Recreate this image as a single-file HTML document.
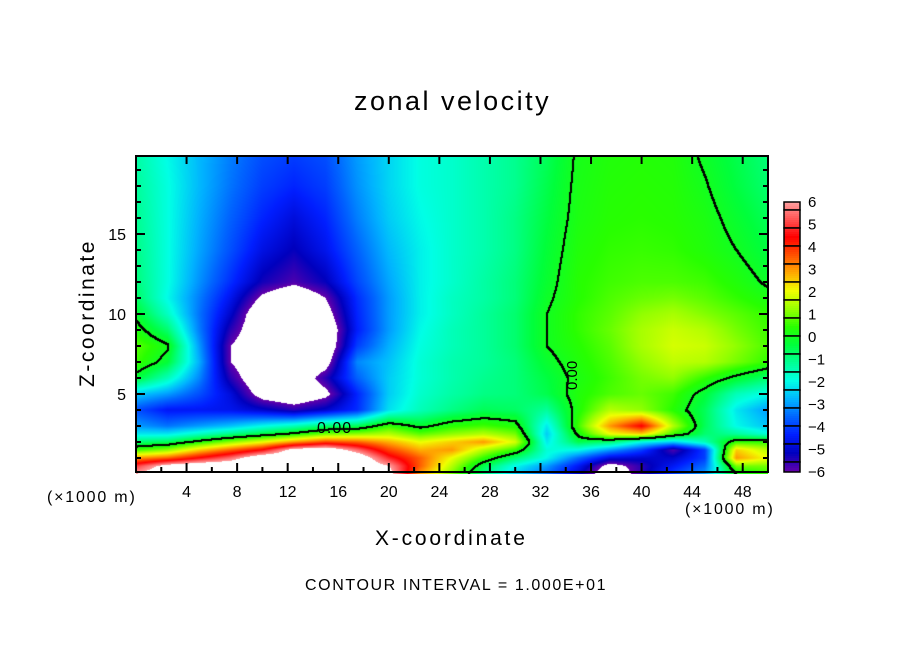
<!DOCTYPE html>
<html><head><meta charset="utf-8">
<style>
body{margin:0;background:#fff;width:904px;height:654px;overflow:hidden;position:relative;font-family:"Liberation Sans",sans-serif;}
.t{position:absolute;color:#000;white-space:nowrap;}
</style></head>
<body>
<div class="t" style="left:354px;top:86px;font-size:27px;letter-spacing:2.5px;">zonal velocity</div>
<div class="t" style="left:-12px;top:301px;font-size:21px;transform:rotate(-90deg);width:200px;text-align:center;letter-spacing:2.5px;">Z-coordinate</div>
<div class="t" style="left:375px;top:527px;font-size:21px;letter-spacing:2.8px;">X-coordinate</div>
<div class="t" style="left:47px;top:489px;font-size:16px;letter-spacing:1.8px;">(×1000 m)</div>
<div class="t" style="left:685px;top:501px;font-size:16px;letter-spacing:1.8px;">(×1000 m)</div>
<div class="t" style="left:305px;top:577px;font-size:16px;letter-spacing:1.6px;">CONTOUR INTERVAL = 1.000E+01</div>
<svg id="svg" width="904" height="654" style="position:absolute;left:0;top:0;">
<foreignObject x="136" y="156" width="632" height="318"><canvas id="cv" width="632" height="318" xmlns="http://www.w3.org/1999/xhtml"></canvas></foreignObject>
</svg>
<script>
const xs=[0,2.5,5,7.5,10,12.5,15,17.5,20,22.5,25,27.5,30,32.5,35,37.5,40,42.5,45,47.5,50];
const zs=[20,18,16,14,12,11,10,9,8,7,6,5,4,3,2.5,2,1.5,1,0.5,0];
const u20=[-1.3,-2.0,-2.7,-3.3,-3.8,-4.0,-3.8,-3.0,-2.4,-1.9,-1.7,-1.4,-1.1,-0.6,0.1,0.3,0.35,0.3,-0.1,-0.5,-0.9];
const u18=[-1.2,-1.9,-2.7,-3.4,-4.0,-4.3,-4.0,-3.1,-2.4,-1.9,-1.7,-1.4,-1.1,-0.5,0.15,0.35,0.4,0.35,0.05,-0.4,-0.8];
const u16=[-1.1,-1.9,-2.8,-3.6,-4.3,-4.8,-4.3,-3.3,-2.5,-2.0,-1.7,-1.4,-1.0,-0.4,0.2,0.4,0.45,0.4,0.2,-0.2,-0.6];
const u14=[-1.0,-1.9,-2.9,-3.8,-4.7,-5.2,-4.6,-3.6,-2.7,-2.1,-1.7,-1.4,-1.0,-0.3,0.3,0.5,0.55,0.5,0.3,0.0,-0.4];
const u12=[-0.9,-1.9,-3.1,-4.2,-5.3,-5.8,-5.2,-3.9,-2.9,-2.1,-1.7,-1.3,-0.9,-0.2,0.4,0.6,0.7,0.7,0.6,0.3,-0.1];
const u11=[-0.7,-2.0,-3.3,-4.6,-6.2,-7,-6.0,-4.2,-3.0,-2.1,-1.6,-1.3,-0.9,-0.1,0.4,0.7,0.9,1.0,0.8,0.5,0.2];
const u10=[-0.2,-1.6,-3.4,-5.0,-7,-7,-6.5,-4.3,-3.0,-2.1,-1.6,-1.2,-0.8,0.0,0.5,0.8,1.2,1.4,1.1,0.8,0.5];
const u9=[0.3,-0.8,-3.3,-5.5,-7,-7,-7,-4.4,-3.0,-2.0,-1.5,-1.2,-0.8,0.0,0.5,0.9,1.4,1.7,1.5,1.0,0.6];
const u8=[0.8,0.1,-3.0,-6.0,-7,-7,-7,-4.0,-2.8,-1.9,-1.5,-1.2,-0.8,0.0,0.4,0.8,1.4,1.8,1.7,1.2,0.7];
const u7=[0.6,-0.3,-2.8,-6.0,-7,-7,-6.5,-3.2,-2.6,-1.8,-1.4,-1.2,-0.9,-0.2,0.3,0.7,1.2,1.6,1.5,1.0,0.5];
const u6=[-0.3,-1.5,-3.2,-5.5,-7,-7,-5.5,-3.6,-2.5,-1.8,-1.4,-1.1,-0.9,-0.4,0.2,0.6,1.0,1.2,0.5,-0.2,-0.8];
const u5=[-2.5,-3.0,-3.8,-4.8,-6.5,-7,-6.3,-4.3,-2.5,-1.7,-1.3,-1.0,-0.9,-0.5,0.3,0.7,0.9,0.6,-0.3,-1.5,-2.0];
const u4=[-3.8,-4.5,-4.5,-4.6,-5.0,-5.5,-5.0,-4.2,-2.3,-1.5,-1.0,-0.6,-0.7,-1.2,0.3,1.5,1.2,0.4,-0.6,-2.2,-3.0];
const u3=[-3.0,-3.4,-3.0,-2.6,-2.0,-1.5,-0.8,-0.6,0.5,-0.2,0.4,0.6,0.3,-2.2,0.6,3.0,4.5,1.5,-0.6,-2.0,-2.6];
const u25=[-2.2,-2.2,-1.6,-1.0,-0.4,0.2,1.0,1.2,1.5,0.8,1.2,1.5,1.0,-2.5,0.2,2.0,2.5,0.6,-0.8,-1.2,-1.8];
const u2=[-0.8,-0.6,0.3,1.2,2.0,3.0,3.8,3.5,2.8,2.0,2.5,3.0,1.8,-2.2,-0.5,-0.8,-2.0,-2.5,-1.5,0.5,0.5];
const u15=[0.6,1.2,2.5,3.5,4.5,6.5,7,5.5,3.8,2.8,3.0,1.5,0.5,-1.8,-2.0,-3.0,-4.0,-5.8,-4.0,2.5,1.5];
const u1=[3.0,3.5,4.5,5.5,7,7,7,7,4.8,3.5,2.0,0.5,-0.8,-2.0,-3.5,-4.8,-5.0,-5.0,-4.0,3.0,2.0];
const u05=[5,6.5,7,7,7,7,7,7,6,3.5,1.5,-0.5,-2,-3,-4.5,-6.5,-5.5,-4.5,-3.5,1.0,1.0];
const u0=[6,7,7,7,7,7,7,7,6.5,3.0,1.0,-1,-2.5,-3.5,-5,-7,-5.5,-4,-3,0,0.5];
const field=[u20,u18,u16,u14,u12,u11,u10,u9,u8,u7,u6,u5,u4,u3,u25,u2,u15,u1,u05,u0];
const cbLabels=[6,5,4,3,2,1,0,-1,-2,-3,-4,-5,-6];
const xTicks=[4,8,12,16,20,24,28,32,36,40,44,48];
const zTicks=[5,10,15];

const L=136,T=156,W=632,H=318,XMAX=50,ZB=474,ZS=16;
const px=x=>L+x/XMAX*W, pz=z=>ZB-z*ZS;
const stops=[[6,[255,160,160]],[5.24,[255,85,85]],[4.44,[255,0,0]],[3.64,[255,80,0]],[2.84,[255,170,0]],[2.04,[240,255,0]],[1.24,[150,255,0]],[0.44,[40,255,0]],[-0.36,[0,255,60]],[-1.16,[0,255,150]],[-1.96,[0,255,230]],[-2.76,[0,180,255]],[-3.56,[0,100,255]],[-4.36,[0,30,255]],[-5.16,[0,0,190]],[-6,[100,0,170]]];
function col(v){
  if(v>6||v<-6)return[255,255,255];
  for(let i=0;i<stops.length-1;i++){const a=stops[i],b=stops[i+1];
    if(v<=a[0]&&v>=b[0]){const t=(a[0]-v)/(a[0]-b[0]);return a[1].map((c,k)=>Math.round(c+(b[1][k]-c)*t));}}
  return[255,255,255];
}
function val(x,z){
  let i=Math.min(xs.length-2,Math.max(0,Math.floor(x/2.5)));
  let tx=(x-xs[i])/(xs[i+1]-xs[i]);
  let j=0;while(j<zs.length-2&&z<zs[j+1])j++;
  let tz=(zs[j]-z)/(zs[j]-zs[j+1]);tz=Math.max(0,Math.min(1,tz));
  const f=field;
  const a=f[j][i]*(1-tx)+f[j][i+1]*tx, b=f[j+1][i]*(1-tx)+f[j+1][i+1]*tx;
  return a*(1-tz)+b*tz;
}
const cv=document.getElementById('cv'),ctx=cv.getContext('2d');


const img=ctx.createImageData(W,H),V=new Float32Array(W*H);
for(let y=0;y<H;y++)for(let x=0;x<W;x++){V[y*W+x]=val((x+0.5)/W*XMAX,(ZB-(T+y+0.5))/ZS);}
for(let k=0;k<W*H;k++){const c=col(V[k]);img.data[k*4]=c[0];img.data[k*4+1]=c[1];img.data[k*4+2]=c[2];img.data[k*4+3]=255;}
for(let y=0;y<H-1;y++)for(let x=0;x<W-1;x++){const k=y*W+x,s=V[k]>=0;
  if(s!==(V[k+1]>=0)||s!==(V[k+W]>=0)){for(const q of[k,k+1,k+W,k+W+1]){img.data[q*4]=0;img.data[q*4+1]=0;img.data[q*4+2]=0;}}}
ctx.putImageData(img,0,0);

const svg=document.getElementById('svg'),NS='http://www.w3.org/2000/svg';
function mk(tag,attrs,parent){const e=document.createElementNS(NS,tag);for(const k in attrs)e.setAttribute(k,attrs[k]);(parent||svg).appendChild(e);return e;}
let cl=mk('text',{x:317,y:433,'font-size':16,'font-family':'Liberation Sans','letter-spacing':1});cl.textContent='0.00';


let cl2=mk('text',{x:0,y:0,'font-size':15,'font-family':'Liberation Sans',transform:'translate(577,390) rotate(-90)'});cl2.textContent='0.00';


let fr=mk('rect',{x:L,y:T,width:W,height:ZB-T-2,fill:'none',stroke:'#000','stroke-width':2});


for(let x=2;x<50;x+=2){const maj=x%4===0;
  mk('line',{x1:px(x),x2:px(x),y1:ZB-2,y2:ZB-2-(maj?9:5),stroke:'#000','stroke-width':2});
  if(maj)mk('line',{x1:px(x),x2:px(x),y1:T,y2:T+8,stroke:'#000','stroke-width':2});}
xTicks.forEach(v=>{const t=mk('text',{x:px(v),y:497,'text-anchor':'middle','font-size':16,'font-family':'Liberation Sans'});t.textContent=v;
  
  });
for(let z=1;z<20;z++){const maj=z%5===0;
  mk('line',{x1:L,x2:L+(maj?9:5),y1:pz(z),y2:pz(z),stroke:'#000','stroke-width':2});
  mk('line',{x1:L+W,x2:L+W-(maj?9:5),y1:pz(z),y2:pz(z),stroke:'#000','stroke-width':2});}
zTicks.forEach(v=>{const t=mk('text',{x:126,y:pz(v)+6,'text-anchor':'end','font-size':16,'font-family':'Liberation Sans'});t.textContent=v;
  
  });
const CB0=202,CBS=22.5;
const cy=v=>CB0+(6-v)*CBS;
const edges=[202,210];for(let k=1;k<=15;k++)edges.push(Math.min(472,210+18*k));
for(let i=0;i<edges.length-1;i++){const y0=edges[i],y1=edges[i+1];
  const g=mk('g',{});
  
  
  for(let y=y0;y<y1;y+=2){const v=6-(y+1-CB0)/CBS;const c=col(Math.max(-5.99,Math.min(5.99,v)));
    mk('rect',{x:784,y:y,width:16,height:Math.min(2,y1-y),fill:`rgb(${c})`},g);}
  mk('rect',{x:784,y:y0,width:16,height:y1-y0,fill:'none',stroke:'#000','stroke-width':1.5},g);}
cbLabels.forEach(v=>{const t=mk('text',{x:808,y:cy(v)+5,'font-size':15,'font-family':'Liberation Sans'});t.textContent=v<0?'\u2212'+(-v):v;
  
  });
</script>
</body></html>
